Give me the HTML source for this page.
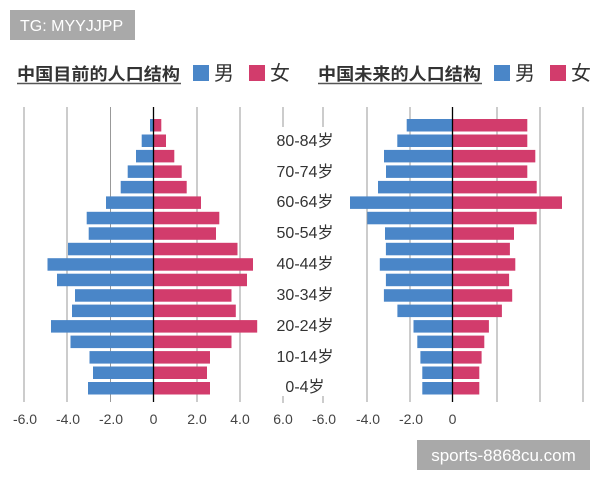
<!DOCTYPE html>
<html><head><meta charset="utf-8"><style>
html,body{margin:0;padding:0;background:#fff;}
svg{display:block;font-family:"Liberation Sans","Noto Sans CJK SC",sans-serif;}
</style></head><body>
<svg width="600" height="480" viewBox="0 0 600 480" xmlns="http://www.w3.org/2000/svg">
<rect width="600" height="480" fill="#fff"/>
<rect x="10" y="10" width="125" height="30" fill="#a9a9a9"/>
<text x="20" y="31" font-size="16" fill="#fff">TG: MYYJJPP</text>

<g font-size="17" font-weight="bold" fill="#333">
<text x="17" y="80" textLength="163" lengthAdjust="spacingAndGlyphs">中国目前的人口结构</text>
<text x="318" y="80" textLength="163" lengthAdjust="spacingAndGlyphs">中国未来的人口结构</text>
</g>
<line x1="17" y1="83.5" x2="181" y2="83.5" stroke="#555" stroke-width="1.5"/>
<line x1="318" y1="83.5" x2="482" y2="83.5" stroke="#555" stroke-width="1.5"/>
<g font-size="20" fill="#333">
<rect x="193" y="65" width="16" height="16" fill="#4a86c8"/><text x="214" y="80">男</text>
<rect x="249" y="65" width="16" height="16" fill="#d23c6c"/><text x="270" y="80">女</text>
<rect x="494" y="65" width="16" height="16" fill="#4a86c8"/><text x="515" y="80">男</text>
<rect x="550" y="65" width="16" height="16" fill="#d23c6c"/><text x="571" y="80">女</text>
</g>

<g stroke="#999" stroke-width="1">
<line x1="24" y1="107" x2="24" y2="402"/>
<line x1="67" y1="107" x2="67" y2="402"/>
<line x1="110.5" y1="107" x2="110.5" y2="402"/>
<line x1="197" y1="107" x2="197" y2="402"/>
<line x1="240" y1="107" x2="240" y2="402"/>
<line x1="283" y1="107" x2="283" y2="127"/>
<line x1="283" y1="396" x2="283" y2="403"/>
<line x1="323" y1="107" x2="323" y2="127"/>
<line x1="323" y1="396" x2="323" y2="403"/>
<line x1="367" y1="107" x2="367" y2="402"/>
<line x1="410" y1="107" x2="410" y2="402"/>
<line x1="497" y1="107" x2="497" y2="402"/>
<line x1="540" y1="107" x2="540" y2="402"/>
<line x1="583" y1="107" x2="583" y2="402"/>
</g>

<g fill="#4a86c8">
<rect x="150" y="119" width="3.5" height="12.5"/>
<rect x="141.7" y="134.5" width="11.8" height="12.5"/>
<rect x="136" y="149.9" width="17.5" height="12.5"/>
<rect x="127.7" y="165.4" width="25.8" height="12.5"/>
<rect x="120.7" y="180.9" width="32.8" height="12.5"/>
<rect x="106" y="196.4" width="47.5" height="12.5"/>
<rect x="86.7" y="211.8" width="66.8" height="12.5"/>
<rect x="88.7" y="227.3" width="64.8" height="12.5"/>
<rect x="68" y="242.8" width="85.5" height="12.5"/>
<rect x="47.5" y="258.2" width="106" height="12.5"/>
<rect x="57" y="273.7" width="96.5" height="12.5"/>
<rect x="75" y="289.2" width="78.5" height="12.5"/>
<rect x="72" y="304.6" width="81.5" height="12.5"/>
<rect x="51" y="320.1" width="102.5" height="12.5"/>
<rect x="70.5" y="335.6" width="83" height="12.5"/>
<rect x="89.5" y="351.1" width="64" height="12.5"/>
<rect x="93" y="366.5" width="60.5" height="12.5"/>
<rect x="88" y="382" width="65.5" height="12.5"/>

<rect x="406.7" y="119" width="45.8" height="12.5"/>
<rect x="397.3" y="134.5" width="55.2" height="12.5"/>
<rect x="384" y="149.9" width="68.5" height="12.5"/>
<rect x="386" y="165.4" width="66.5" height="12.5"/>
<rect x="378" y="180.9" width="74.5" height="12.5"/>
<rect x="350" y="196.4" width="102.5" height="12.5"/>
<rect x="367.3" y="211.8" width="85.2" height="12.5"/>
<rect x="385" y="227.3" width="67.5" height="12.5"/>
<rect x="385.9" y="242.8" width="66.6" height="12.5"/>
<rect x="379.8" y="258.2" width="72.7" height="12.5"/>
<rect x="385.9" y="273.7" width="66.6" height="12.5"/>
<rect x="383.9" y="289.2" width="68.6" height="12.5"/>
<rect x="397.4" y="304.6" width="55.1" height="12.5"/>
<rect x="413.5" y="320.1" width="39" height="12.5"/>
<rect x="417.3" y="335.6" width="35.2" height="12.5"/>
<rect x="420.4" y="351.1" width="32.1" height="12.5"/>
<rect x="422.3" y="366.5" width="30.2" height="12.5"/>
<rect x="422.3" y="382" width="30.2" height="12.5"/>
</g>
<g fill="#d23c6c">
<rect x="153.5" y="119" width="7.8" height="12.5"/>
<rect x="153.5" y="134.5" width="12.5" height="12.5"/>
<rect x="153.5" y="149.9" width="20.8" height="12.5"/>
<rect x="153.5" y="165.4" width="28.2" height="12.5"/>
<rect x="153.5" y="180.9" width="33.2" height="12.5"/>
<rect x="153.5" y="196.4" width="47.5" height="12.5"/>
<rect x="153.5" y="211.8" width="65.8" height="12.5"/>
<rect x="153.5" y="227.3" width="62.5" height="12.5"/>
<rect x="153.5" y="242.8" width="84" height="12.5"/>
<rect x="153.5" y="258.2" width="99.5" height="12.5"/>
<rect x="153.5" y="273.7" width="93.5" height="12.5"/>
<rect x="153.5" y="289.2" width="78" height="12.5"/>
<rect x="153.5" y="304.6" width="82.3" height="12.5"/>
<rect x="153.5" y="320.1" width="103.7" height="12.5"/>
<rect x="153.5" y="335.6" width="78" height="12.5"/>
<rect x="153.5" y="351.1" width="56.5" height="12.5"/>
<rect x="153.5" y="366.5" width="53.5" height="12.5"/>
<rect x="153.5" y="382" width="56.5" height="12.5"/>

<rect x="452.5" y="119" width="74.8" height="12.5"/>
<rect x="452.5" y="134.5" width="74.8" height="12.5"/>
<rect x="452.5" y="149.9" width="82.8" height="12.5"/>
<rect x="452.5" y="165.4" width="74.8" height="12.5"/>
<rect x="452.5" y="180.9" width="84.2" height="12.5"/>
<rect x="452.5" y="196.4" width="109.5" height="12.5"/>
<rect x="452.5" y="211.8" width="84.2" height="12.5"/>
<rect x="452.5" y="227.3" width="61.5" height="12.5"/>
<rect x="452.5" y="242.8" width="57.4" height="12.5"/>
<rect x="452.5" y="258.2" width="62.8" height="12.5"/>
<rect x="452.5" y="273.7" width="56.6" height="12.5"/>
<rect x="452.5" y="289.2" width="59.7" height="12.5"/>
<rect x="452.5" y="304.6" width="49.4" height="12.5"/>
<rect x="452.5" y="320.1" width="36.4" height="12.5"/>
<rect x="452.5" y="335.6" width="31.8" height="12.5"/>
<rect x="452.5" y="351.1" width="29.1" height="12.5"/>
<rect x="452.5" y="366.5" width="26.8" height="12.5"/>
<rect x="452.5" y="382" width="26.8" height="12.5"/>
</g>

<line x1="153.5" y1="107" x2="153.5" y2="402" stroke="#000" stroke-width="1.3"/>
<line x1="452.5" y1="107" x2="452.5" y2="402" stroke="#000" stroke-width="1.3"/>

<g font-size="16" fill="#333" text-anchor="middle">
<text x="305" y="146">80-84岁</text>
<text x="305" y="177">70-74岁</text>
<text x="305" y="207">60-64岁</text>
<text x="305" y="238">50-54岁</text>
<text x="305" y="269">40-44岁</text>
<text x="305" y="300">30-34岁</text>
<text x="305" y="331">20-24岁</text>
<text x="305" y="362">10-14岁</text>
<text x="305" y="392">0-4岁</text>
</g>

<g font-size="14" fill="#444" text-anchor="middle">
<text x="25" y="424">-6.0</text>
<text x="68" y="424">-4.0</text>
<text x="111" y="424">-2.0</text>
<text x="153.5" y="424">0</text>
<text x="197" y="424">2.0</text>
<text x="240" y="424">4.0</text>
<text x="283" y="424">6.0</text>
<text x="324" y="424">-6.0</text>
<text x="368" y="424">-4.0</text>
<text x="411" y="424">-2.0</text>
<text x="452.5" y="424">0</text>
</g>

<rect x="417" y="440" width="173" height="30" fill="#a9a9a9"/>
<text x="503.5" y="461" font-size="17" fill="#fff" text-anchor="middle">sports-8868cu.com</text>
</svg>
</body></html>
